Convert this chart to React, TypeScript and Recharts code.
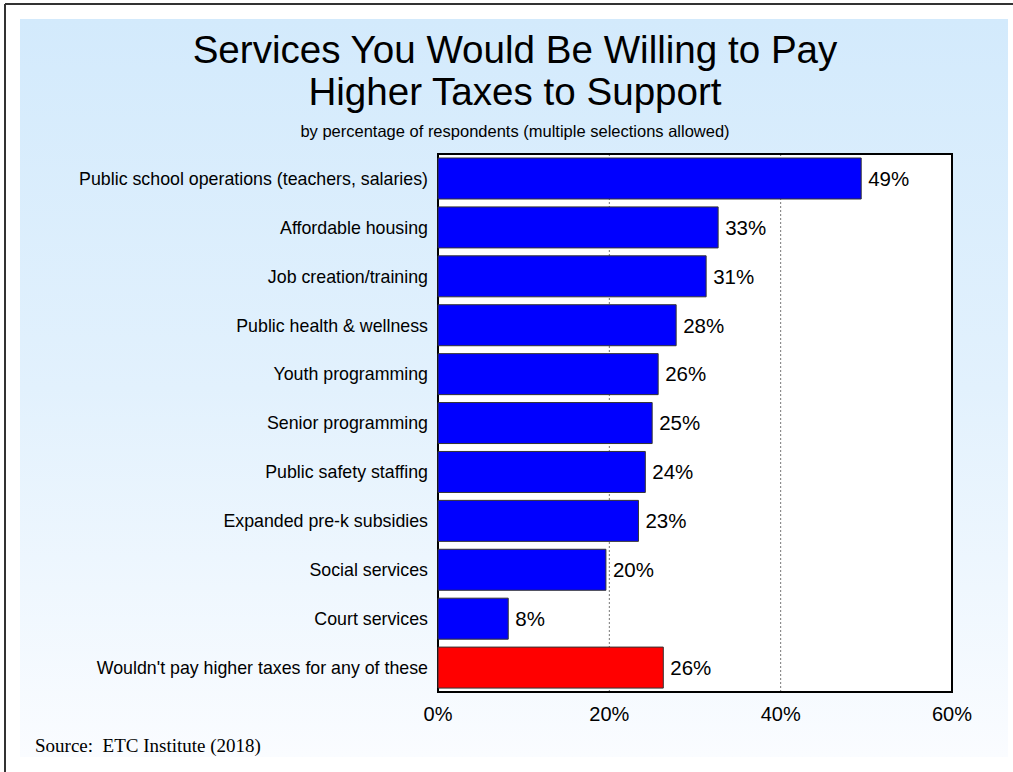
import React from 'react';
import { BarChart, Bar, XAxis, YAxis, CartesianGrid, Cell, LabelList, ReferenceArea } from 'recharts';

const categories = [
  'Public school operations (teachers, salaries)',
  'Affordable housing',
  'Job creation/training',
  'Public health & wellness',
  'Youth programming',
  'Senior programming',
  'Public safety staffing',
  'Expanded pre-k subsidies',
  'Social services',
  'Court services',
  "Wouldn't pay higher taxes for any of these",
];
const values = [49.4, 32.7, 31.3, 27.8, 25.7, 25.0, 24.2, 23.4, 19.6, 8.2, 26.3];
const valueLabels = ['49%', '33%', '31%', '28%', '26%', '25%', '24%', '23%', '20%', '8%', '26%'];
const xTicks = [0, 20, 40, 60];

const titleLines = ['Services You Would Be Willing to Pay', 'Higher Taxes to Support'];
const subtitle = 'by percentage of respondents (multiple selections allowed)';
const sourceText = 'Source:  ETC Institute (2018)';

const data = categories.map((name, i) => ({ name, value: values[i], label: valueLabels[i] }));

const SANS = '"Liberation Sans", Arial, sans-serif';
const SERIF = '"Liberation Serif", "Times New Roman", serif';

export default function App() {
  return (
    <div style={{ position: 'absolute', left: 0, top: 0, width: 1013, height: 772, background: '#fff', overflow: 'hidden' }}>
      <svg width={1013} height={772} style={{ position: 'absolute', left: 0, top: 0 }}>
        <defs>
          <linearGradient id="bg" x1="0" y1="0" x2="0" y2="1">
            <stop offset="0%" stopColor="#d3eafc" />
            <stop offset="50%" stopColor="#e2f1fd" />
            <stop offset="100%" stopColor="#fafcff" />
          </linearGradient>
        </defs>
        <rect x={20} y={19} width={988} height={738} fill="url(#bg)" />
        <line x1={5} y1={4} x2={1013} y2={4} stroke="#333" strokeWidth={2} />
        <line x1={5} y1={4} x2={5} y2={772} stroke="#333" strokeWidth={2} />
        <text x={515} y={63} textAnchor="middle" fontFamily={SANS} fontSize={38.6} fill="#000">{titleLines[0]}</text>
        <text x={515} y={105} textAnchor="middle" fontFamily={SANS} fontSize={38.6} fill="#000">{titleLines[1]}</text>
        <text x={515} y={137} textAnchor="middle" fontFamily={SANS} fontSize={16.5} fill="#000">{subtitle}</text>
        <text x={35} y={752} fontFamily={SERIF} fontSize={19} fill="#000" style={{ whiteSpace: 'pre' }}>{sourceText}</text>
      </svg>
      <div style={{ position: 'absolute', left: 0, top: 0 }}>
        <BarChart
          width={1013}
          height={772}
          data={data}
          layout="vertical"
          margin={{ top: 154, right: 61, bottom: 50, left: 8 }}
          barSize={41}
        >
          <CartesianGrid horizontal={false} vertical={true} fill="#ffffff" stroke="#777" strokeDasharray="2 2" />
          <XAxis
            type="number"
            domain={[0, 60]}
            ticks={xTicks}
            tickFormatter={(v) => `${v}%`}
            axisLine={false}
            tickLine={false}
            tickSize={0}
            tickMargin={15}
            height={30}
            interval={0}
            tick={{ fontFamily: SANS, fontSize: 20, fill: '#000' }}
          />
          <YAxis
            type="category"
            dataKey="name"
            width={430}
            axisLine={false}
            tickLine={false}
            tickSize={0}
            tickMargin={10}
            interval={0}
            tick={{ fontFamily: SANS, fontSize: 17.8, fill: '#000' }}
          />
          <Bar dataKey="value" isAnimationActive={false} stroke="#333" strokeWidth={1}>
            {data.map((d, i) => (
              <Cell key={d.name} fill={i === data.length - 1 ? '#ff0000' : '#0000ff'} />
            ))}
            <LabelList dataKey="label" position="right" offset={7} style={{ fontFamily: SANS, fontSize: 20.5, fill: '#000' }} />
          </Bar>
          <ReferenceArea x1={0} x2={60} fill="none" stroke="#000" strokeWidth={2} ifOverflow="visible" />
        </BarChart>
      </div>
    </div>
  );
}
